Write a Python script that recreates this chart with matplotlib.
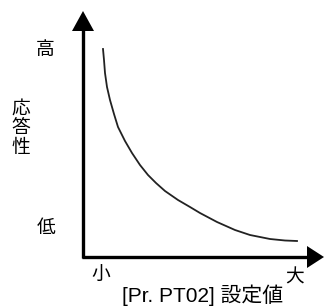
import matplotlib
matplotlib.use('Agg')
import matplotlib.pyplot as plt

plt.rcParams['font.family'] = ['Liberation Sans', 'Noto Sans CJK JP']

# curve (pixel-like units, y grows downward)
curve_x = [103, 104, 105, 107, 110, 114, 118, 125, 132, 140, 148, 156, 165, 178, 190, 200, 217, 235, 250, 270, 285, 297]
curve_y = [49, 60, 73, 87, 100, 114, 127, 141, 153, 165, 175, 183, 191, 200, 207, 213, 222, 230, 235, 239, 240.5, 241]

y_labels = ['高', '低']
x_labels = ['小', '大']
y_title = '応答性'
x_title = '[Pr. PT02] 設定値'

fig = plt.figure(figsize=(3.24, 3.07), dpi=100)
ax = fig.add_axes([0, 0, 1, 1])
ax.set_xlim(0, 324)
ax.set_ylim(307, 0)
ax.axis('off')

# axes with arrows
ax.plot([83, 83], [258, 28], color='black', lw=2.4, solid_capstyle='butt')
ax.plot([82, 310], [257, 257], color='black', lw=2.4, solid_capstyle='butt')
ax.fill([72, 94, 83], [31, 31, 11], color='black', lw=0)
ax.fill([307, 307, 324], [246, 268, 257], color='black', lw=0)

ax.plot(curve_x, curve_y, color='#222222', lw=1.3)

fs = 13.5
ax.text(45, 51, y_labels[0], ha='center', va='center', fontsize=fs)
ax.text(46, 228, y_labels[1], ha='center', va='center', fontsize=fs)
for i, ch in enumerate(y_title):
    ax.text(21, 109 + i * 19.5, ch, ha='center', va='center', fontsize=fs)
ax.text(101, 276, x_labels[0], ha='center', va='center', fontsize=fs)
ax.text(295, 278, x_labels[1], ha='center', va='center', fontsize=fs)
ax.text(203, 306, x_title, ha='center', va='bottom', fontsize=15)

fig.savefig('out.png', dpi=100)
